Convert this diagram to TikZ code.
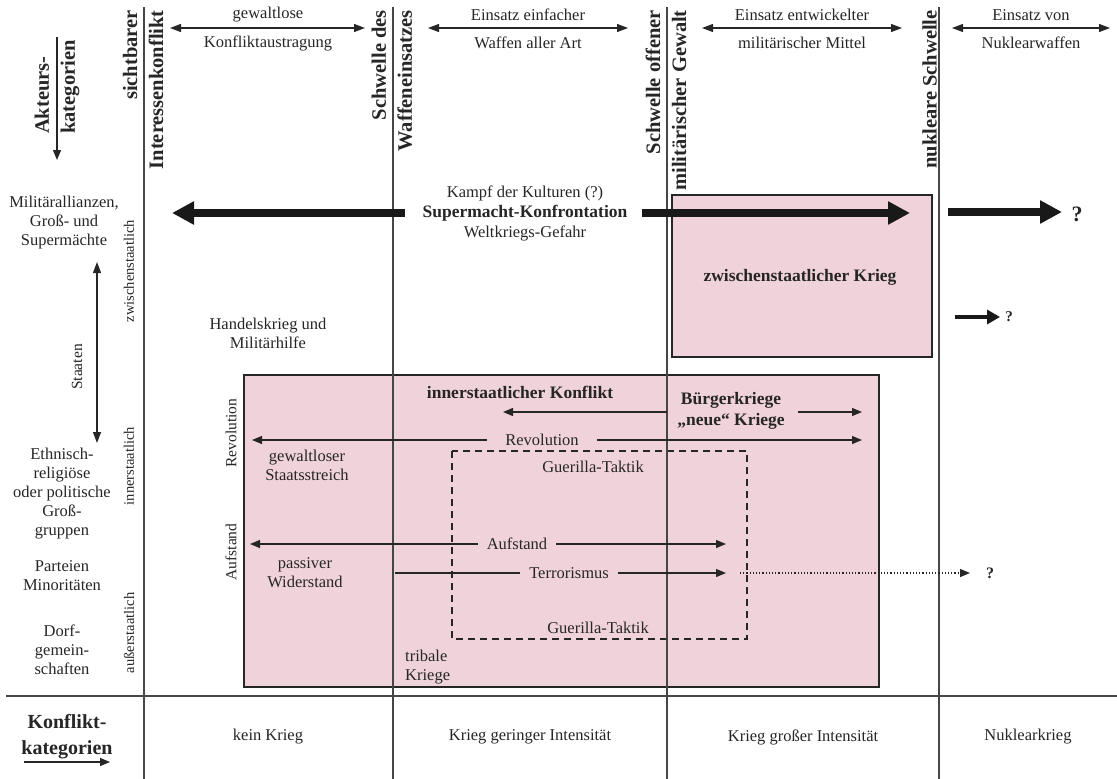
\documentclass[tikz,border=0pt]{standalone}
\usepackage{fontspec}
\setmainfont{Liberation Serif}
\usetikzlibrary{arrows.meta}

\definecolor{krosa}{RGB}{240,210,218}
\definecolor{klinie}{RGB}{70,70,70}

\tikzset{
  txt/.style={font=\fontsize{16.5}{19}\selectfont, text=black!85, align=center, inner sep=0pt},
  fett/.style={txt, font=\bfseries\fontsize{17.5}{21.5}\selectfont},
  kopf/.style={rotate=90, inner sep=0pt, text=black!85, font=\bfseries\fontsize{20.5}{26}\selectfont},
  seite/.style={txt, rotate=90, font=\fontsize{14.5}{17}\selectfont},
  pfeiltxt/.style={txt, inner xsep=9pt},
  duenn/.style={line width=1.2pt, black!85, -{Triangle[length=10pt,width=8pt]}},
  doppel/.style={line width=1.2pt, black!85, {Triangle[length=11pt,width=8pt]}-{Triangle[length=11pt,width=8pt]}},
  dick/.style={line width=8pt, black!90, -{Triangle[length=22pt,width=22pt]}},
  feld/.style={fill=krosa, draw=black!85, line width=2pt},
  raster/.style={klinie, line width=1.3pt},
}

\begin{document}
\begin{tikzpicture}[x=1pt,y=-1pt]
\useasboundingbox (0,0) rectangle (1117,779);

\draw[feld] (672,195) rectangle (932,357);
\draw[feld] (244,375) rectangle (879,687);
\draw[black!85, line width=2pt, dash pattern=on 7pt off 5pt] (452,451) rectangle (747,639);

\draw[raster] (144,7) -- (144,779);
\draw[raster] (393,7) -- (393,779);
\draw[raster] (667,7) -- (667,779);
\draw[raster] (939,7) -- (939,779);
\draw[raster] (6,696) -- (1117,696);


\node[kopf, anchor=west, align=left] (akteure) at (57,134) {Akteurs-\\kategorien};
\coordinate (ak1) at (57,37);
\coordinate (ak2) at (57,160);
\draw[duenn] (ak1) -- (ak2);

\node[kopf, anchor=east, align=right] (schw1) at (143,10) {sichtbarer\\Interessenkonflikt};
\node[kopf, anchor=east, align=right] (schw2) at (392,10) {Schwelle des\\Waffeneinsatzes};
\node[kopf, anchor=east, align=right] (schw3) at (666,10) {Schwelle offener\\militärischer Gewalt};
\node[kopf, anchor=south east] (schw4) at (937,10) {nukleare Schwelle};


\coordinate (h1a) at (170,28);
\coordinate (h1b) at (365,28);
\draw[doppel] (h1a) -- (h1b);
\node[txt] (h1o) at (268,15) {gewaltlose};
\node[txt] (h1u) at (268,43) {Konfliktaustragung};

\coordinate (h2a) at (428,28);
\coordinate (h2b) at (628,28);
\draw[doppel] (h2a) -- (h2b);
\node[txt] (h2o) at (528,15) {Einsatz einfacher};
\node[txt] (h2u) at (528,43) {Waffen aller Art};

\coordinate (h3a) at (702,28);
\coordinate (h3b) at (902,28);
\draw[doppel] (h3a) -- (h3b);
\node[txt] (h3o) at (802,15) {Einsatz entwickelter};
\node[txt] (h3u) at (802,43) {militärischer Mittel};

\coordinate (h4a) at (952,28);
\coordinate (h4b) at (1110,28);
\draw[doppel] (h4a) -- (h4b);
\node[txt] (h4o) at (1031,15) {Einsatz von};
\node[txt] (h4u) at (1031,43) {Nuklearwaffen};


\node[txt] (allianz) at (64,223) {Militärallianzen,\\Groß- und\\Supermächte};
\coordinate (st1) at (97,262);
\coordinate (st2) at (97,443);
\draw[doppel] (st1) -- (st2);
\node[seite, font=\fontsize{15.5}{17}\selectfont] (staaten) at (77,367) {Staaten};
\node[txt] (ethno) at (62,494) {Ethnisch-\\religiöse\\oder politische\\Groß-\\gruppen};
\node[txt] (parteien) at (62,576) {Parteien\\Minoritäten};
\node[txt] (dorf) at (62,650) {Dorf-\\gemein-\\schaften};

\node[seite] (zwi) at (129,271) {zwischenstaatlich};
\node[seite] (inn) at (129,466) {innerstaatlich};
\node[seite] (aus) at (129,633) {außerstaatlich};

\node[txt, font=\bfseries\fontsize{20}{26}\selectfont] (konfkat) at (67,737) {Konflikt-\\kategorien};
\coordinate (kk1) at (24,762);
\coordinate (kk2) at (110,762);
\draw[duenn] (kk1) -- (kk2);

\node[txt] (kk) at (268,737) {kein Krieg};
\node[txt] (kgi) at (530,737) {Krieg geringer Intensität};
\node[txt] (kgr) at (803,737) {Krieg großer Intensität};
\node[txt] (nk) at (1028,737) {Nuklearkrieg};


\node[txt] (kampf) at (525,193) {Kampf der Kulturen (?)};
\node[fett] (super) at (525,213) {Supermacht-Konfrontation};
\node[txt] (welt) at (525,233) {Weltkriegs-Gefahr};
\coordinate (sl1) at (405,213);
\coordinate (sl2) at (172,213);
\draw[dick] (sl1) -- (sl2);
\coordinate (sr1) at (642,213);
\coordinate (sr2) at (910,213);
\draw[dick] (sr1) -- (sr2);
\coordinate (sn1) at (948,212);
\coordinate (sn2) at (1062,212);
\draw[dick] (sn1) -- (sn2);
\node[fett, font=\bfseries\fontsize{22}{24}\selectfont] (frage1) at (1077,214) {?};

\node[fett] (zkrieg) at (800,277) {zwischenstaatlicher Krieg};
\coordinate (kl1) at (955,317);
\coordinate (kl2) at (1000,317);
\draw[line width=4pt, black!90, -{Triangle[length=13pt,width=14pt]}] (kl1) -- (kl2);
\node[fett, font=\bfseries\fontsize{15}{17}\selectfont] (frage2) at (1009,317) {?};

\node[txt] (handel) at (268,333) {Handelskrieg und\\Militärhilfe};


\node[fett] (innkonf) at (520,392) {innerstaatlicher Konflikt};
\node[fett] (buerger) at (731,411) {Bürgerkriege\\„neue“ Kriege};
\coordinate (bk1) at (667,412);
\coordinate (bk2) at (503,412);
\coordinate (bk3) at (798,412);
\coordinate (bk4) at (862,412);
\draw[duenn] (bk1) -- (bk2);
\draw[duenn] (bk3) -- (bk4);

\node[pfeiltxt, inner xsep=18pt] (revol) at (542,440) {Revolution};
\coordinate (rv1) at (252,440);
\coordinate (rv2) at (862,440);
\draw[duenn] (revol.west) -- (rv1);
\draw[duenn] (revol.east) -- (rv2);
\node[txt] (staatsstr) at (307,465) {gewaltloser\\Staatsstreich};
\node[seite, font=\fontsize{15.5}{17}\selectfont] (revlab) at (231,433) {Revolution};

\node[txt] (guer1) at (593,467) {Guerilla-Taktik};

\node[pfeiltxt] (aufst) at (517,544) {Aufstand};
\coordinate (af1) at (250,544);
\coordinate (af2) at (726,544);
\draw[duenn] (aufst.west) -- (af1);
\draw[duenn] (aufst.east) -- (af2);
\node[seite, font=\fontsize{15.5}{17}\selectfont] (auflab) at (231,552) {Aufstand};

\node[pfeiltxt] (terror) at (569,573) {Terrorismus};
\coordinate (tr1) at (395,573);
\coordinate (tr2) at (726,573);
\draw[line width=1.2pt, black!85] (tr1) -- (terror.west);
\draw[duenn] (terror.east) -- (tr2);
\node[txt] (passiv) at (305,573) {passiver\\Widerstand};
\coordinate (dt1) at (740,573);
\coordinate (dt2) at (970,573);
\draw[duenn, dotted] (dt1) -- (dt2);
\node[fett, font=\bfseries\fontsize{16}{18}\selectfont] (frage3) at (990,573) {?};

\node[txt] (guer2) at (598,628) {Guerilla-Taktik};
\node[txt, anchor=west, align=left] (tribal) at (405,667) {tribale\\Kriege};
\end{tikzpicture}
\end{document}
